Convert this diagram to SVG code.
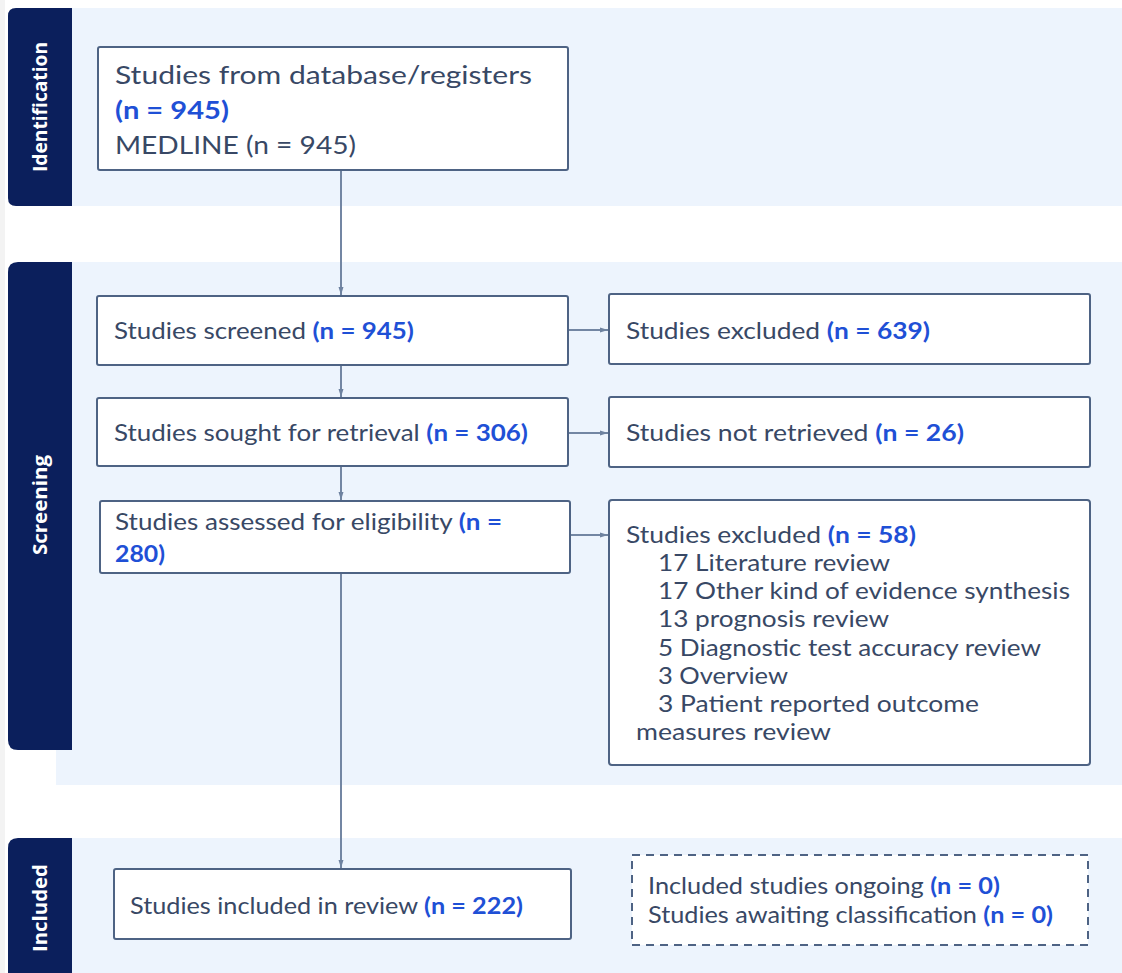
<svg xmlns="http://www.w3.org/2000/svg" width="1122" height="973" viewBox="0 0 1122 973">
<defs>
<style>
.band{fill:#EDF4FD}
.side{fill:#0B1F5C}
.sidetxt{fill:#FFFFFF;font-family:"Open Sans","Liberation Sans",sans-serif;font-weight:700;font-size:20px}
.box{fill:#FFFFFF;stroke:#4E6384;stroke-width:2}
.dbox{fill:#FFFFFF;stroke:#4E6384;stroke-width:2;stroke-dasharray:8 6}
.t{fill:#384865;font-family:Lato,"Open Sans","Liberation Sans",sans-serif;font-size:22.4px}
.t1{font-size:24.5px}
.n{fill:#1F50D6;font-weight:700}
.conn{stroke:#7386A3;stroke-width:2;fill:none}
</style>
<marker id="arr" markerWidth="8" markerHeight="6" refX="8" refY="3" orient="auto" markerUnits="userSpaceOnUse">
<path d="M0,0.5 L8,3 L0,5.5 Z" fill="#6E82A0"/>
</marker>
</defs>
<rect x="0" y="0" width="1122" height="973" fill="#FFFFFF"/>
<rect x="0" y="0" width="5" height="973" fill="#F3F3F3"/>

<g id="band-identification">
<rect class="band" x="56" y="8" width="1066" height="198"/>
<path class="side" d="M72,8 V206 H16 Q8,206 8,198 V16 Q8,8 16,8 Z"/>
<text class="sidetxt" transform="translate(47,107) rotate(-90)" text-anchor="middle" textLength="130" lengthAdjust="spacingAndGlyphs">Identification</text>
</g>
<g id="band-screening">
<rect class="band" x="56" y="262" width="1066" height="523"/>
<path class="side" d="M72,262 V750 H18 Q8,750 8,740 V272 Q8,262 18,262 Z"/>
<text class="sidetxt" transform="translate(47,505) rotate(-90)" text-anchor="middle" textLength="100" lengthAdjust="spacingAndGlyphs">Screening</text>
</g>
<g id="band-included">
<rect class="band" x="56" y="838" width="1066" height="135"/>
<path class="side" d="M72,838 V973 H8 V848 Q8,838 18,838 Z"/>
<text class="sidetxt" transform="translate(47,908) rotate(-90)" text-anchor="middle" textLength="88" lengthAdjust="spacingAndGlyphs">Included</text>
</g>

<g id="connectors">
<line class="conn" x1="341" y1="171" x2="341" y2="295" marker-end="url(#arr)"/>
<line class="conn" x1="341" y1="366" x2="341" y2="397" marker-end="url(#arr)"/>
<line class="conn" x1="341" y1="467" x2="341" y2="500" marker-end="url(#arr)"/>
<line class="conn" x1="341" y1="574" x2="341" y2="868" marker-end="url(#arr)"/>
<line class="conn" x1="569" y1="330" x2="608" y2="330" marker-end="url(#arr)"/>
<line class="conn" x1="569" y1="433" x2="608" y2="433" marker-end="url(#arr)"/>
<line class="conn" x1="571" y1="535" x2="608" y2="535" marker-end="url(#arr)"/>
</g>

<g id="node-identified">
<rect class="box" x="98" y="47" width="470" height="123" rx="2"/>
<text class="t t1" x="115" y="84" textLength="417" lengthAdjust="spacingAndGlyphs">Studies from database/registers</text>
<text class="t t1" x="115" y="119" textLength="114" lengthAdjust="spacingAndGlyphs"><tspan class="n">(n = 945)</tspan></text>
<text class="t t1" x="115" y="154" textLength="241" lengthAdjust="spacingAndGlyphs">MEDLINE (n = 945)</text>
</g>

<g id="node-screened">
<rect class="box" x="97" y="296" width="471" height="69" rx="2"/>
<text class="t" x="114" y="339" textLength="300" lengthAdjust="spacingAndGlyphs">Studies screened <tspan class="n">(n = 945)</tspan></text>
</g>

<g id="node-excluded1">
<rect class="box" x="609" y="294" width="481" height="70" rx="2"/>
<text class="t" x="626" y="339" textLength="304" lengthAdjust="spacingAndGlyphs">Studies excluded <tspan class="n">(n = 639)</tspan></text>
</g>

<g id="node-sought">
<rect class="box" x="97" y="398" width="471" height="68" rx="2"/>
<text class="t" x="114" y="441" textLength="414" lengthAdjust="spacingAndGlyphs">Studies sought for retrieval <tspan class="n">(n = 306)</tspan></text>
</g>

<g id="node-notretrieved">
<rect class="box" x="609" y="397" width="481" height="70" rx="2"/>
<text class="t" x="626" y="441" textLength="338" lengthAdjust="spacingAndGlyphs">Studies not retrieved <tspan class="n">(n = 26)</tspan></text>
</g>

<g id="node-assessed">
<rect class="box" x="100" y="501" width="470" height="72" rx="2"/>
<text class="t" x="115" y="530" textLength="387" lengthAdjust="spacingAndGlyphs">Studies assessed for eligibility <tspan class="n">(n =</tspan></text>
<text class="t" x="115" y="562" textLength="50" lengthAdjust="spacingAndGlyphs"><tspan class="n">280)</tspan></text>
</g>

<g id="node-excluded2">
<rect class="box" x="609" y="500" width="481" height="265" rx="3"/>
<text class="t" x="626" y="543" textLength="290" lengthAdjust="spacingAndGlyphs">Studies excluded <tspan class="n">(n = 58)</tspan></text>
<text class="t" x="658" y="571" textLength="232" lengthAdjust="spacingAndGlyphs">17 Literature review</text>
<text class="t" x="658" y="599" textLength="412" lengthAdjust="spacingAndGlyphs">17 Other kind of evidence synthesis</text>
<text class="t" x="658" y="627" textLength="231" lengthAdjust="spacingAndGlyphs">13 prognosis review</text>
<text class="t" x="658" y="656" textLength="383" lengthAdjust="spacingAndGlyphs">5 Diagnostic test accuracy review</text>
<text class="t" x="658" y="684" textLength="130" lengthAdjust="spacingAndGlyphs">3 Overview</text>
<text class="t" x="658" y="712" textLength="321" lengthAdjust="spacingAndGlyphs">3 Patient reported outcome</text>
<text class="t" x="636" y="740" textLength="195" lengthAdjust="spacingAndGlyphs">measures review</text>
</g>

<g id="node-included">
<rect class="box" x="114" y="869" width="457" height="70" rx="2"/>
<text class="t" x="130" y="914" textLength="393" lengthAdjust="spacingAndGlyphs">Studies included in review <tspan class="n">(n = 222)</tspan></text>
</g>

<g id="node-ongoing">
<rect class="dbox" x="632" y="855" width="456" height="90"/>
<text class="t" x="648" y="894" textLength="352" lengthAdjust="spacingAndGlyphs">Included studies ongoing <tspan class="n">(n = 0)</tspan></text>
<text class="t" x="648" y="923" textLength="405" lengthAdjust="spacingAndGlyphs">Studies awaiting classification <tspan class="n">(n = 0)</tspan></text>
</g>
</svg>
